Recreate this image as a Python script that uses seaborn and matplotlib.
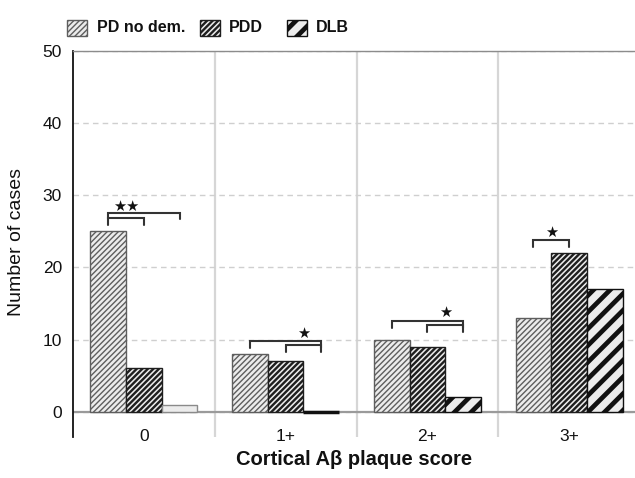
import matplotlib
matplotlib.use('Agg')
import matplotlib.pyplot as plt
import seaborn as sns
import pandas as pd
import numpy as np
from matplotlib.patches import Rectangle

# ---- data ----
categories = ['0', '1+', '2+', '3+']
series = ['PD no dem.', 'PDD', 'DLB']
pd_no_dem = [25, 8, 10, 13]
pdd = [6, 7, 9, 22]
dlb = [1, 0, 2, 17]
y_ticks = [0, 10, 20, 30, 40, 50]

# significance brackets: (category index, series a, series b, bracket top)
brackets = [(0, 0, 2, 27.6), (0, 0, 1, 26.9),
            (1, 0, 2, 9.85), (1, 1, 2, 9.3),
            (2, 0, 2, 12.6), (2, 1, 2, 12.05),
            (3, 0, 1, 23.8)]
# stars: (category index, series a, series b, label, y)
stars = [(0, 0, 1, '★★', 28.4), (1, 1, 2, '★', 10.9),
         (2, 1, 2, '★', 13.7), (3, 0, 1, '★', 24.8)]

df = pd.DataFrame({
    'score': categories * 3,
    'group': np.repeat(series, len(categories)),
    'n': pd_no_dem + pdd + dlb,
})

sns.set_theme(style='white')
plt.rcParams['font.family'] = ['Liberation Sans', 'DejaVu Sans']

W, H = 635, 478
fig = plt.figure(figsize=(W / 100, H / 100), dpi=100)
ax_left, ax_right, ax_top, ax_bottom = 73, 640, 51, 437
ax = fig.add_axes([ax_left / W, 1 - ax_bottom / H,
                   (ax_right - ax_left) / W, (ax_bottom - ax_top) / H])

group_width = 0.756
sns.barplot(data=df, x='score', y='n', hue='group', order=categories,
            hue_order=series, width=group_width, palette=['#ececec'] * 3,
            saturation=1, legend=False, ax=ax, zorder=3)

styles = [
    dict(hatch='//////', ec='#5e5e5e', hlw=1.0, lw=1.0),
    dict(hatch='//////', ec='#1e1e1e', hlw=1.7, lw=1.0),
    dict(hatch='//', ec='#111111', hlw=3.4, lw=1.0),
]
for cont, st in zip(ax.containers, styles):
    for p in cont:
        p.set_hatch(st['hatch'])
        p.set_edgecolor(st['ec'])
        p.set_linewidth(st['lw'])
        try:
            p.set_hatch_linewidth(st['hlw'])
        except AttributeError:
            pass
# faint look for very small DLB bar at 0
dlb_cont = ax.containers[2]
dlb_cont[0].set_hatch('')
dlb_cont[0].set_edgecolor('#8a8a8a')
dlb_cont[1].set_linewidth(2.5)

ax.set_xlim(-0.5, len(categories) - 0.5)
ax.set_ylim(-3.5, 50)
ax.set_yticks(y_ticks)
ax.yaxis.grid(True, linestyle=(0, (4, 3)), color='#cfcfcf', linewidth=1.0, zorder=0)
ax.xaxis.grid(False)
ax.set_axisbelow(True)
for xb in np.arange(0.5, len(categories) - 0.5, 1):
    ax.axvline(xb, color='#d6d6d6', lw=1.6, zorder=0.5)
ax.axhline(0, color='#9a9a9a', lw=1.6, zorder=2)

for side in ['right', 'bottom']:
    ax.spines[side].set_visible(False)
ax.spines['left'].set_color('#111111')
ax.spines['left'].set_linewidth(1.3)
ax.spines['top'].set_color('#8c8c8c')
ax.spines['top'].set_linewidth(1.0)

ax.tick_params(axis='y', length=0, pad=8, labelsize=12.5, labelcolor='#111111')
ax.tick_params(axis='x', length=0, pad=-6, labelsize=12.5, labelcolor='#111111')
ax.set_xlabel('Cortical Aβ plaque score', fontsize=14.5, fontweight='bold', color='#111111')
ax.xaxis.set_label_coords(0.495, -0.034)
ax.set_ylabel('Number of cases', fontsize=14, color='#111111')
ax.yaxis.set_label_coords(-0.085, 0.505)

# significance annotations
bw = group_width / len(series)
def xpos(ci, si):
    return ci + (si - (len(series) - 1) / 2) * bw

leg = 0.95
for ci, a, b, top in brackets:
    x1, x2 = xpos(ci, a), xpos(ci, b)
    ax.plot([x1, x1, x2, x2], [top - leg, top, top, top - leg],
            color='#333333', lw=1.5, zorder=4, solid_joinstyle='miter')
for ci, a, b, lab, y in stars:
    xm = (xpos(ci, a) + xpos(ci, b)) / 2
    ax.text(xm, y, lab, ha='center', va='center', fontsize=10.5,
            family=['DejaVu Sans'], color='#111111', zorder=5)

# legend (top, outside axes)
leg_x = [67, 200, 287]
txt_x = [97, 229, 316]
for i, st in enumerate(styles):
    r = Rectangle((leg_x[i] / W, 1 - 36 / H), 20 / W, 16 / H,
                  transform=fig.transFigure, facecolor='#ececec',
                  edgecolor=st['ec'], hatch=st['hatch'], lw=1.0)
    try:
        r.set_hatch_linewidth(st['hlw'])
    except AttributeError:
        pass
    fig.add_artist(r)
    fig.text(txt_x[i] / W, 1 - 28 / H, series[i], ha='left', va='center',
             fontsize=11.5, fontweight='bold', color='#111111')

fig.savefig('out.png', dpi=100, facecolor='white')
